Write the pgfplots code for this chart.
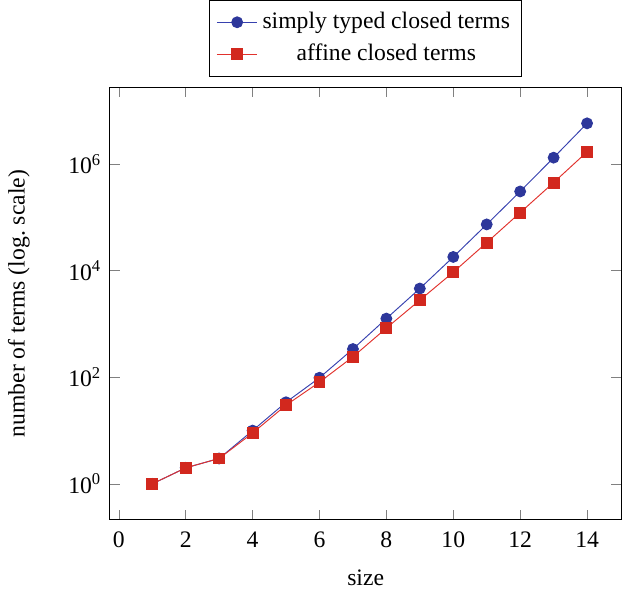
\documentclass[border=0pt]{standalone}
\usepackage{fontspec}
\setmainfont{Liberation Serif}
\usepackage{pgfplots}
\pgfplotsset{compat=1.18}
\definecolor{bline}{RGB}{55,65,175}
\definecolor{bfill}{RGB}{45,55,155}
\definecolor{rline}{RGB}{225,50,45}
\definecolor{rfill}{RGB}{210,40,30}
\begin{document}
\begin{tikzpicture}
\begin{axis}[
  scale only axis,
  width=216.5pt, height=183pt,
  ymode=log,
  xmin=-0.27, xmax=15.03,
  ymin=0.211, ymax=27500000,
  xtick={0,2,4,6,8,10,12,14},
  ytick={1,100,10000,1000000},
  yticklabels={10\textsuperscript{0},10\textsuperscript{2},10\textsuperscript{4},10\textsuperscript{6}},
  yminorticks=false,
  /pgf/number format/assume math mode=true,
  xlabel={size},
  ylabel={number of terms (log.\ scale)},
  ylabel shift=9.5pt,
  xlabel shift=2.5pt,
  xticklabel shift=1.5pt,
  legend style={at={(0.5,1.025)}, anchor=south, legend columns=1, inner sep=3pt, row sep=1pt},
  legend cell align=center,
]
\addplot[color=bline, mark=*, mark size=2.3pt, mark options={fill=bfill, draw=bfill}] coordinates {(1,1) (2,2) (3,3) (4,10) (5,34) (6,98) (7,339) (8,1263) (9,4626) (10,18099) (11,73782) (12,306295) (13,1318667) (14,5807630)};
\addlegendentry{simply typed closed terms}
\addplot[color=rline, mark=square*, mark size=2.3pt, mark options={fill=rfill, draw=rfill}] coordinates {(1,1) (2,2) (3,3) (4,9) (5,30) (6,81) (7,242) (8,838) (9,2799) (10,9365) (11,33616) (12,122937) (13,449698) (14,1696724)};
\addlegendentry{affine closed terms}
\end{axis}
\end{tikzpicture}
\end{document}
